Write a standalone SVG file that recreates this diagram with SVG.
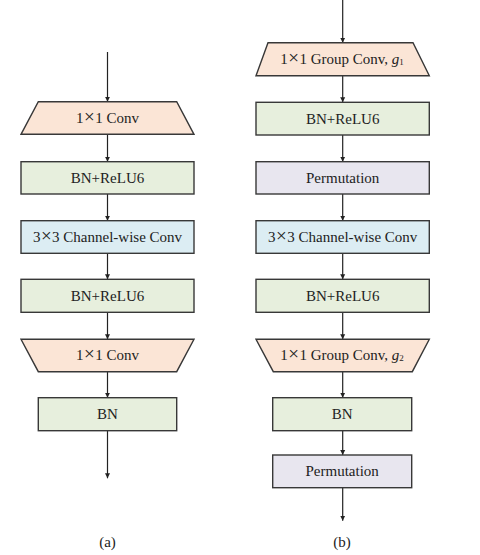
<svg xmlns="http://www.w3.org/2000/svg" width="480" height="555" viewBox="0 0 480 555">
<defs>
<marker id="ah" markerWidth="6" markerHeight="6" refX="5" refY="3" orient="auto" markerUnits="userSpaceOnUse">
<path d="M0,0.5 L5,3 L0,5.5 Z" fill="#222"/>
</marker>
<style>
.n{stroke:#383838;stroke-width:1.4}
.conv{fill:#fbe5d6}
.bn{fill:#e7efdd}
.cw{fill:#dcedf3}
.pm{fill:#e8e6ef}
.t{font-family:"Liberation Serif","Times New Roman",serif;font-size:15px;fill:#222;text-anchor:middle}
.x{font-size:19px}
.c{stroke:#222;stroke-width:1.2;fill:none;marker-end:url(#ah)}
</style>
</defs>
<rect width="480" height="555" fill="#fff"/>
<g id="connectors">
<line class="c" x1="107.5" y1="52" x2="107.5" y2="101.7"/>
<line class="c" x1="107.5" y1="134.3" x2="107.5" y2="161.7"/>
<line class="c" x1="107.5" y1="194" x2="107.5" y2="220.7"/>
<line class="c" x1="107.5" y1="253.3" x2="107.5" y2="279.3"/>
<line class="c" x1="107.5" y1="312.3" x2="107.5" y2="339.3"/>
<line class="c" x1="107.5" y1="371.7" x2="107.5" y2="397.7"/>
<line class="c" x1="107.5" y1="430.7" x2="107.5" y2="478.3"/>
<line class="c" x1="342.7" y1="0" x2="342.7" y2="42.7"/>
<line class="c" x1="342.7" y1="75.7" x2="342.7" y2="102.3"/>
<line class="c" x1="342.7" y1="135" x2="342.7" y2="161.7"/>
<line class="c" x1="342.7" y1="194" x2="342.7" y2="220.7"/>
<line class="c" x1="342.7" y1="253.3" x2="342.7" y2="279.3"/>
<line class="c" x1="342.7" y1="312.3" x2="342.7" y2="339.3"/>
<line class="c" x1="342.7" y1="371.7" x2="342.7" y2="397.7"/>
<line class="c" x1="342.7" y1="430.7" x2="342.7" y2="455"/>
<line class="c" x1="342.7" y1="487.7" x2="342.7" y2="520.7"/>
</g>
<g id="a_conv1">
<polygon class="n conv" points="38.3,101.7 176.7,101.7 194,134.3 21,134.3"/>
<text class="t" x="107.5" y="123">1<tspan class="x" dx="0.5">×</tspan><tspan dx="0.5">1 Conv</tspan></text>
</g>
<g id="a_bnrelu1">
<rect class="n bn" x="21" y="161.7" width="173" height="32.3"/>
<text class="t" x="107.5" y="182.7">BN+ReLU6</text>
</g>
<g id="a_cw">
<rect class="n cw" x="21" y="220.7" width="173" height="32.6"/>
<text class="t" x="107.5" y="241.8">3<tspan class="x" dx="0.5">×</tspan><tspan dx="0.5">3 Channel-wise Conv</tspan></text>
</g>
<g id="a_bnrelu2">
<rect class="n bn" x="21" y="279.3" width="173" height="33"/>
<text class="t" x="107.5" y="300.6">BN+ReLU6</text>
</g>
<g id="a_conv2">
<polygon class="n conv" points="21,339.3 194,339.3 176.7,371.7 38.3,371.7"/>
<text class="t" x="107.5" y="360.4">1<tspan class="x" dx="0.5">×</tspan><tspan dx="0.5">1 Conv</tspan></text>
</g>
<g id="a_bn">
<rect class="n bn" x="38.3" y="397.7" width="138.4" height="33"/>
<text class="t" x="107.5" y="419">BN</text>
</g>
<g id="b_gconv1">
<polygon class="n conv" points="268,42.7 413,42.7 429.3,75.7 256,75.7"/>
<text class="t" x="342" y="64">1<tspan class="x" dx="0.5">×</tspan><tspan dx="0.5">1 Group Conv, </tspan><tspan font-style="italic">g</tspan><tspan font-size="9" dy="1">1</tspan></text>
</g>
<g id="b_bnrelu1">
<rect class="n bn" x="256" y="102.3" width="173.3" height="32.7"/>
<text class="t" x="342.7" y="123.6">BN+ReLU6</text>
</g>
<g id="b_perm1">
<rect class="n pm" x="256" y="161.7" width="173.3" height="32.3"/>
<text class="t" x="342.7" y="182.7">Permutation</text>
</g>
<g id="b_cw">
<rect class="n cw" x="256" y="220.7" width="173.3" height="32.6"/>
<text class="t" x="342.7" y="241.8">3<tspan class="x" dx="0.5">×</tspan><tspan dx="0.5">3 Channel-wise Conv</tspan></text>
</g>
<g id="b_bnrelu2">
<rect class="n bn" x="256" y="279.3" width="173.3" height="33"/>
<text class="t" x="342.7" y="300.6">BN+ReLU6</text>
</g>
<g id="b_gconv2">
<polygon class="n conv" points="256,339.3 429.3,339.3 412.3,371.7 273.3,371.7"/>
<text class="t" x="342" y="360.4">1<tspan class="x" dx="0.5">×</tspan><tspan dx="0.5">1 Group Conv, </tspan><tspan font-style="italic">g</tspan><tspan font-size="9" dy="1">2</tspan></text>
</g>
<g id="b_bn">
<rect class="n bn" x="272.7" y="397.7" width="139" height="33"/>
<text class="t" x="342.2" y="419">BN</text>
</g>
<g id="b_perm2">
<rect class="n pm" x="272.7" y="455" width="139" height="32.7"/>
<text class="t" x="342.2" y="476.2">Permutation</text>
</g>
<g id="labels">
<text class="t" x="107.5" y="546.5">(a)</text>
<text class="t" x="342" y="546.5">(b)</text>
</g>
</svg>
